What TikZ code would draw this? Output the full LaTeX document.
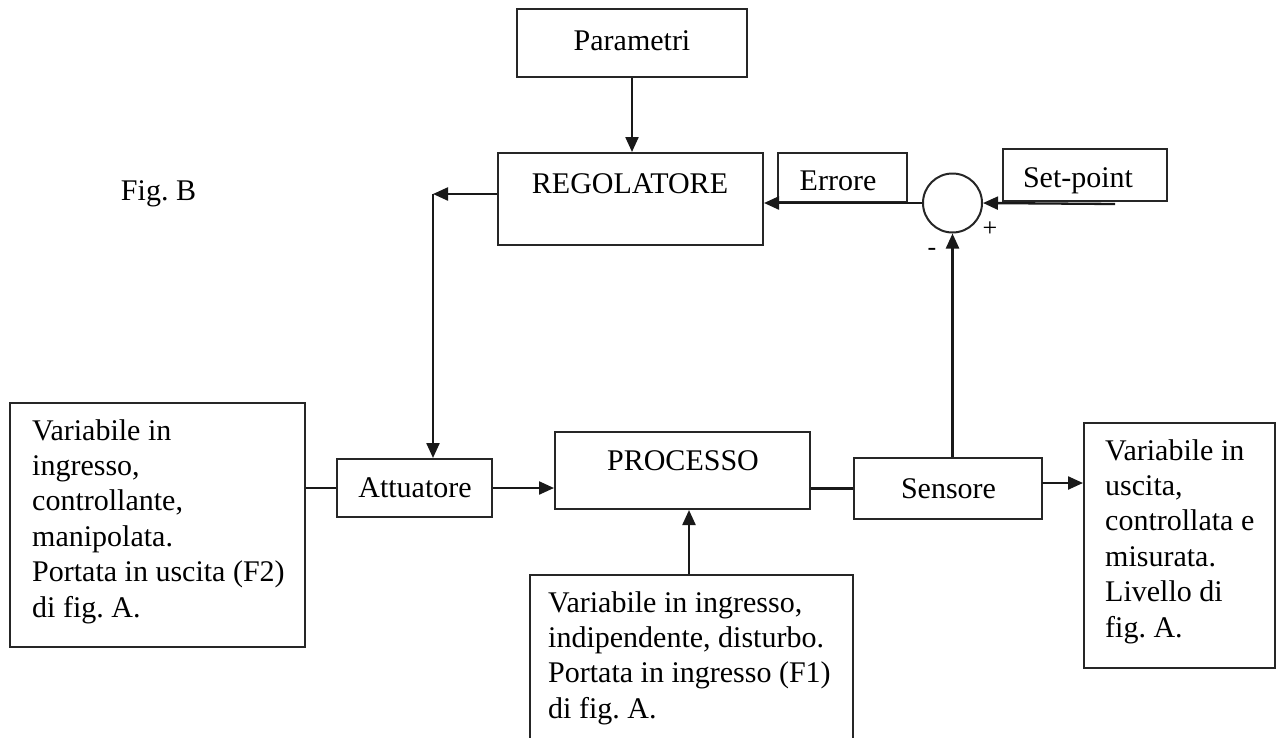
\documentclass[tikz,border=0pt]{standalone}
\usepackage{fontspec}
\setmainfont{Liberation Serif}
\usetikzlibrary{arrows.meta}
% natural interword spacing inside aligned multi-line nodes
\newcommand{\natsp}{\frenchspacing\spaceskip=0pt\relax\xspaceskip=0pt\relax}

\begin{document}
\begin{tikzpicture}[x=1pt,y=-1pt,
  every node/.style={font=\fontsize{30}{35.4}\selectfont},
  box/.style={draw=black!85, line width=2pt, inner sep=0pt, rectangle},
  lbl/.style={inner sep=0pt, anchor=base},
  para/.style={inner sep=0pt, anchor=base west, align=left},
  wire/.style={line width=2.3pt, black!90},
  arr/.style={wire, -{Triangle[length=15pt,width=13pt]}},
  sign/.style={inner sep=0pt, font=\fontsize{26}{30}\selectfont}
]
\useasboundingbox (0,0) rectangle (1277,737);
\clip (0,0) rectangle (1277,737);

% blocks
\node[box, minimum width=230, minimum height=68]  (par)  at (632,43)      {};
\node[box, minimum width=265, minimum height=92]  (reg)  at (630.5,199)   {};
\node[box, minimum width=129, minimum height=49]  (err)  at (842.5,177.5) {};
\node[box, minimum width=164, minimum height=52]  (setp) at (1085,175)    {};
\node[draw=black!85, line width=2pt, circle, inner sep=0pt, minimum size=59] (sum) at (952.5,203) {};
\node[box, minimum width=295, minimum height=244] (inL)  at (157.5,525)   {};
\node[box, minimum width=155, minimum height=58]  (att)  at (414.5,488)   {};
\node[box, minimum width=255, minimum height=77]  (proc) at (682.5,470.5) {};
\node[box, minimum width=188, minimum height=61]  (sens) at (948,488.5)   {};
\node[box, minimum width=191, minimum height=245] (outR) at (1179.5,545.5){};
\node[box, minimum width=323, minimum height=185] (dist) at (691.5,667.5) {};

% labels
\node[lbl] (tpar)  at (632,50)    {Parametri};
\node[lbl] (treg)  at (630,193)   {REGOLATORE};
\node[lbl] (terr)  at (838,190)   {Errore};
\node[lbl] (tsetp) at (1078,187)  {Set-point};
\node[lbl] (tatt)  at (415,497)   {Attuatore};
\node[lbl] (tproc) at (683,470)   {PROCESSO};
\node[lbl] (tsens) at (948.5,498) {Sensore};
\node[lbl] (tfig)  at (158.5,200) {\natsp Fig. B};
\node[sign] (plus)  at (990,229) {+};
\node[sign] (minus) at (932,252) {-};

\node[para, text width=270] (tinL) at (32,440)
  {\natsp Variabile in\\ingresso,\\controllante,\\manipolata.\\Portata in uscita (F2)\\di fig. A.};
\node[para, text width=168] (toutR) at (1105,460)
  {\natsp Variabile in\\uscita,\\controllata e\\misurata.\\Livello di\\fig. A.};
\node[para, text width=300] (tdist) at (548,612)
  {\natsp Variabile in ingresso,\\indipendente, disturbo.\\Portata in ingresso (F1)\\di fig. A.};

% connectors
\coordinate (cA) at (433,194);
\coordinate (spin) at (1115,204);
\coordinate (sOut) at (1042,483);

\draw[arr] (par.south) -- (par.south |- reg.north);
\draw[arr] (reg.west |- cA) -- (cA);
\draw[arr] (cA) -- (cA |- att.north);
\draw[wire] (att.west -| inL.east) -- (att.west);
\draw[arr] (att.east) -- (att.east -| proc.west);
\draw[wire] (sens.west -| proc.east) -- (sens.west);
\draw[arr] (sOut) -- (sOut -| outR.west);
\draw[arr] (sum.south |- sens.north) -- (sum.south);
\draw[arr] (sum.west) -- (sum.west -| reg.east);
\draw[arr] (spin) -- (sum.east);
\draw[arr] (dist.north -| 689,0) -- (proc.south -| 689,0);
\end{tikzpicture}
\end{document}
